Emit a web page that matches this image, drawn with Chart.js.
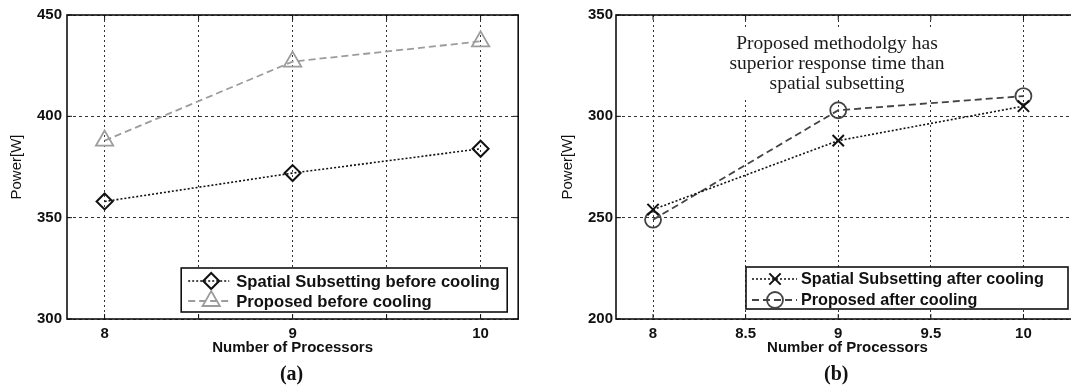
<!DOCTYPE html>
<html><head><meta charset="utf-8">
<script src="https://cdn.jsdelivr.net/npm/chart.js@4/dist/chart.umd.min.js"></script>
<style>
html,body{margin:0;padding:0;background:#fff;overflow:hidden;width:1071px;height:388px;}
#wrap{position:relative;width:1071px;height:388px;overflow:hidden;background:#fff;}
#boxA{position:absolute;left:0;top:0;width:530px;height:388px;}
#boxB{position:absolute;left:530px;top:0;width:560px;height:388px;}
</style></head><body>
<div id="wrap">
  <div id="boxA"><canvas id="cA" width="530" height="388"></canvas></div>
  <div id="boxB"><canvas id="cB" width="560" height="388"></canvas></div>
</div>
<script>
// ---- data ----
const processors = [8, 9, 10];
const spatialBefore = [358, 372, 384];
const proposedBefore = [388, 427, 437];
const spatialAfter = [254, 288, 305];
const proposedAfter = [249, 303, 310];
const gridX = [8, 8.5, 9, 9.5, 10];
const xLabelsA = [8, 9, 10];
const xLabelsB = [8, 8.5, 9, 9.5, 10];
const yTicksA = [300, 350, 400, 450];
const yTicksB = [200, 250, 300, 350];
const legendA = ['Spatial Subsetting before cooling', 'Proposed before cooling'];
const legendB = ['Spatial Subsetting after cooling', 'Proposed after cooling'];
const noteB = ['Proposed methodolgy has', 'superior response time than', 'spatial subsetting'];
const xTitle = 'Number of Processors';
const yTitle = 'Power[W]';

const SANS = '"Liberation Sans", Arial, sans-serif';
const SERIF = '"Liberation Serif", "Times New Roman", serif';
const INK = '#111';

function pts(ys) { return processors.map((x, i) => ({x: x, y: ys[i]})); }

function drawMarker(ctx, ds, x, y) {
  ctx.save();
  ctx.setLineDash([]);
  ctx.strokeStyle = ds.pointBorderColor;
  ctx.fillStyle = 'rgba(0,0,0,0)';
  ctx.lineWidth = ds.pointBorderWidth;
  if (Chart.helpers && Chart.helpers.drawPoint) {
    Chart.helpers.drawPoint(ctx, {pointStyle: ds.pointStyle, radius: ds.pointRadius, borderWidth: ds.pointBorderWidth, rotation: 0}, x, y);
  }
  ctx.restore();
}

const frameTicks = {
  id: 'frameTicks',
  afterDatasetsDraw(chart) {
    const ctx = chart.ctx, a = chart.chartArea;
    const xs = chart.scales.x, ys = chart.scales.y;
    ctx.save();
    ctx.setLineDash([]);
    ctx.strokeStyle = INK;
    ctx.lineWidth = 1;
    ctx.beginPath();
    xs.ticks.forEach(t => {
      const px = xs.getPixelForValue(t.value);
      ctx.moveTo(px, a.bottom); ctx.lineTo(px, a.bottom - 5);
      ctx.moveTo(px, a.top); ctx.lineTo(px, a.top + 5);
    });
    ys.ticks.forEach(t => {
      const py = ys.getPixelForValue(t.value);
      ctx.moveTo(a.left, py); ctx.lineTo(a.left + 5, py);
      ctx.moveTo(a.right, py); ctx.lineTo(a.right - 5, py);
    });
    ctx.stroke();
    ctx.lineWidth = 1.6;
    ctx.strokeRect(a.left, a.top, a.right - a.left, a.bottom - a.top);
    ctx.restore();
  }
};

function captionPlugin(text, dx) {
  return {
    id: 'caption',
    afterDraw(chart) {
      const ctx = chart.ctx, xs = chart.scales.x;
      const cx = (xs.getPixelForValue(gridX[0]) + xs.getPixelForValue(gridX[gridX.length - 1])) / 2 + dx;
      ctx.save();
      ctx.fillStyle = INK;
      ctx.font = 'bold 20px ' + SERIF;
      ctx.textAlign = 'center';
      ctx.textBaseline = 'middle';
      ctx.fillText(text, cx, 375);
      ctx.restore();
    }
  };
}

function legendPlugin(cfg) {
  return {
    id: 'mlLegend',
    afterDraw(chart) {
      const ctx = chart.ctx, a = chart.chartArea;
      const x0 = a.right - cfg.offR - cfg.w, y0 = a.bottom - cfg.offB - cfg.h;
      ctx.save();
      ctx.fillStyle = '#fff';
      ctx.fillRect(x0, y0, cfg.w, cfg.h);
      ctx.setLineDash([]);
      ctx.lineWidth = 1.6; ctx.strokeStyle = INK;
      ctx.strokeRect(x0, y0, cfg.w, cfg.h);
      chart.data.datasets.forEach((ds, i) => {
        const y = y0 + cfg.rows[i];
        ctx.save();
        ctx.strokeStyle = ds.borderColor; ctx.lineWidth = ds.borderWidth;
        ctx.setLineDash(ds.borderDash || []);
        ctx.beginPath(); ctx.moveTo(x0 + cfg.l1, y); ctx.lineTo(x0 + cfg.l2, y); ctx.stroke();
        ctx.restore();
        drawMarker(ctx, ds, x0 + cfg.m, y);
        ctx.fillStyle = INK;
        ctx.font = 'bold ' + cfg.fs + 'px ' + SANS;
        ctx.textBaseline = 'middle';
        ctx.textAlign = 'left';
        ctx.fillText(ds.label, x0 + cfg.t, y + 1);
      });
      ctx.restore();
    }
  };
}

const notePlugin = {
  id: 'note',
  beforeDatasetsDraw(chart) {
    const ctx = chart.ctx;
    ctx.save();
    ctx.fillStyle = '#fff';
    ctx.fillRect(190, 30, 234, 67);
    ctx.fillStyle = '#1a1a1a';
    ctx.font = '19.5px ' + SERIF;
    ctx.textAlign = 'center';
    ctx.textBaseline = 'middle';
    noteB.forEach((line, i) => ctx.fillText(line, 307, 44 + i * 20));
    ctx.restore();
  }
};

function makeChart(id, cfg) {
  return new Chart(document.getElementById(id), {
    type: 'line',
    data: {datasets: cfg.datasets},
    options: {
      responsive: false, animation: false, devicePixelRatio: 1,
      layout: {padding: {top: 15, right: cfg.padR, left: 0, bottom: 0}},
      plugins: {legend: {display: false}, tooltip: {enabled: false}, title: {display: false}},
      scales: {
        x: {
          type: 'linear', min: 7.8, max: cfg.xMax,
          afterBuildTicks: s => { s.ticks = gridX.map(v => ({value: v})); },
          ticks: {callback: v => cfg.xLabels.includes(v) ? String(v) : '', color: INK,
            font: {family: SANS, size: 15, weight: 'bold'}, padding: 6, maxRotation: 0, autoSkip: false},
          grid: {color: '#333', lineWidth: 1, drawTicks: false},
          border: {display: false, dash: [2, 3]},
          title: {display: true, text: xTitle, color: INK, font: {family: SANS, size: 15, weight: 'bold'}, padding: {top: 0, bottom: 31}},
          afterFit: s => { s.height = 69; }
        },
        y: {
          type: 'linear', min: cfg.yTicks[0], max: cfg.yTicks[cfg.yTicks.length - 1],
          afterBuildTicks: s => { s.ticks = cfg.yTicks.map(v => ({value: v})); },
          ticks: {color: INK, font: {family: SANS, size: 15, weight: 'bold'}, padding: cfg.yPad},
          grid: {color: '#333', lineWidth: 1, drawTicks: false},
          border: {display: false, dash: [3, 3]},
          title: {display: true, text: yTitle, color: INK, font: {family: SANS, size: 15}, padding: {top: cfg.yTitlePad, bottom: 0}},
          afterFit: s => { s.width = cfg.yW; }
        }
      }
    },
    plugins: cfg.plugins
  });
}

makeChart('cA', {
  xMax: 10.2, padR: 10, yW: 67, yPad: 5, yTitlePad: 8,
  xLabels: xLabelsA, yTicks: yTicksA,
  datasets: [
    {label: legendA[0], data: pts(spatialBefore), borderColor: '#111', borderWidth: 1.6, borderDash: [2, 2],
     pointStyle: 'rectRot', pointRadius: 8, pointBorderWidth: 2, pointBorderColor: '#111', pointBackgroundColor: 'rgba(0,0,0,0)', tension: 0, fill: false},
    {label: legendA[1], data: pts(proposedBefore), borderColor: '#9c9c9c', borderWidth: 1.8, borderDash: [7, 4],
     pointStyle: 'triangle', pointRadius: 10, pointBorderWidth: 1.8, pointBorderColor: '#9c9c9c', pointBackgroundColor: 'rgba(0,0,0,0)', tension: 0, fill: false}
  ],
  plugins: [frameTicks, legendPlugin({w: 326, h: 44, offR: 11, offB: 7, rows: [13, 33], l1: 7, l2: 48, m: 30, t: 55, fs: 16.6}), captionPlugin('(a)', -1)]
});

makeChart('cB', {
  xMax: 10.3, padR: 11, yW: 86, yPad: 3, yTitlePad: 29,
  xLabels: xLabelsB, yTicks: yTicksB,
  datasets: [
    {label: legendB[0], data: pts(spatialAfter), borderColor: '#111', borderWidth: 1.6, borderDash: [2, 2],
     pointStyle: 'crossRot', pointRadius: 8, pointBorderWidth: 2, pointBorderColor: '#111', pointBackgroundColor: 'rgba(0,0,0,0)', tension: 0, fill: false},
    {label: legendB[1], data: pts(proposedAfter), borderColor: '#444', borderWidth: 1.8, borderDash: [7, 4],
     pointStyle: 'circle', pointRadius: 8, pointBorderWidth: 1.8, pointBorderColor: '#444', pointBackgroundColor: 'rgba(0,0,0,0)', tension: 0, fill: false}
  ],
  plugins: [notePlugin, frameTicks, legendPlugin({w: 322, h: 42, offR: 11, offB: 10, rows: [12, 33], l1: 6, l2: 51, m: 29, t: 55, fs: 16.2}), captionPlugin('(b)', -2)]
});
</script>
</body></html>
